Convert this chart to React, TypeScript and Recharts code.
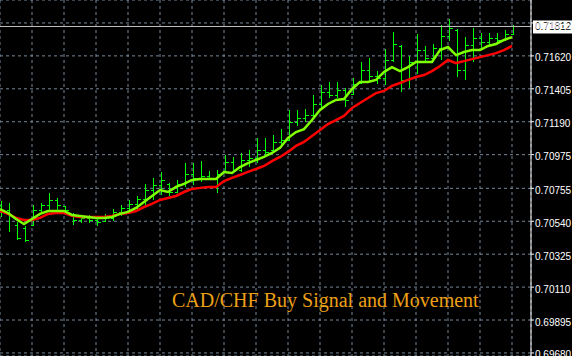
import { ComposedChart, Bar, Line, XAxis, YAxis, CartesianGrid, ReferenceLine } from 'recharts';

// OHLC bars, one per column
const highs = [
  0.70672, 0.70659, 0.70535, 0.70509, 0.70646, 0.70659, 0.70724, 0.70692, 0.7064, 0.70594,
  0.70575, 0.70581, 0.70562, 0.70588, 0.7062, 0.70646, 0.70679, 0.70705, 0.70784, 0.70823,
  0.70862, 0.7079, 0.7081, 0.7092, 0.7092, 0.70933, 0.70868, 0.70875, 0.70973, 0.7096,
  0.70986, 0.71006, 0.71084, 0.71084, 0.71104, 0.71142, 0.71267, 0.71267, 0.71273, 0.71365,
  0.7143, 0.7145, 0.7145, 0.71411, 0.71476, 0.7158, 0.71606, 0.71521, 0.71665, 0.71776,
  0.71691, 0.71619, 0.71763, 0.71685, 0.71698, 0.71822, 0.71861, 0.71796, 0.71743, 0.71802,
  0.71769, 0.71769, 0.71769, 0.71789, 0.71822,
];
const lows = [
  0.70568, 0.7047, 0.70418, 0.70405, 0.70509, 0.70594, 0.70601, 0.70594, 0.70594, 0.70515,
  0.70528, 0.70528, 0.70509, 0.70535, 0.70541, 0.70575, 0.70588, 0.7062, 0.70646, 0.70679,
  0.70711, 0.70705, 0.70724, 0.70764, 0.70777, 0.70797, 0.7081, 0.70724, 0.70855, 0.70855,
  0.70862, 0.70894, 0.7092, 0.7096, 0.70999, 0.71038, 0.71064, 0.71162, 0.71188, 0.71208,
  0.71273, 0.71345, 0.71345, 0.71286, 0.71371, 0.71443, 0.7145, 0.71437, 0.7143, 0.7158,
  0.71384, 0.7141, 0.71502, 0.71586, 0.7158, 0.71593, 0.71717, 0.71482, 0.71463, 0.7158,
  0.71665, 0.71685, 0.71704, 0.71724, 0.71763,
];
const opens = [
  0.70646, 0.70614, 0.70515, 0.70496, 0.70515, 0.70614, 0.70646, 0.70679, 0.7064, 0.70588,
  0.70548, 0.70562, 0.70548, 0.70541, 0.70562, 0.70601, 0.70627, 0.70653, 0.70685, 0.70744,
  0.70777, 0.70784, 0.70731, 0.70784, 0.70849, 0.70823, 0.70836, 0.70823, 0.70862, 0.70927,
  0.70875, 0.7094, 0.70953, 0.71006, 0.71006, 0.71058, 0.71071, 0.71188, 0.71214, 0.71234,
  0.71306, 0.71384, 0.71365, 0.71397, 0.71371, 0.71443, 0.71528, 0.71489, 0.71476, 0.71593,
  0.71685, 0.71463, 0.7158, 0.71658, 0.71606, 0.71671, 0.7175, 0.71789, 0.71528, 0.71691,
  0.71737, 0.71711, 0.71737, 0.71724, 0.71763,
];
const closes = [
  0.70614, 0.70581, 0.70431, 0.70418, 0.70614, 0.70646, 0.70679, 0.70646, 0.70614, 0.70548,
  0.70562, 0.70548, 0.70535, 0.70562, 0.70601, 0.70627, 0.70653, 0.70685, 0.70744, 0.70777,
  0.7081, 0.70731, 0.70784, 0.70849, 0.70823, 0.70836, 0.70823, 0.70849, 0.70927, 0.70875,
  0.7094, 0.70953, 0.71006, 0.70993, 0.71058, 0.71071, 0.71188, 0.71214, 0.71234, 0.71306,
  0.71384, 0.71365, 0.71397, 0.71332, 0.71437, 0.71528, 0.71489, 0.71476, 0.71593, 0.71698,
  0.71463, 0.7158, 0.71658, 0.71606, 0.71671, 0.7175, 0.71802, 0.71528, 0.71691, 0.71737,
  0.71711, 0.71737, 0.71724, 0.71763, 0.71812,
];

// moving averages
const fastMa = [
  0.7062, 0.70594, 0.70555, 0.70522, 0.70555, 0.70588, 0.70607, 0.70607, 0.70607, 0.70581,
  0.70575, 0.70568, 0.70562, 0.70562, 0.70568, 0.70588, 0.70601, 0.70627, 0.70666, 0.70705,
  0.70744, 0.70731, 0.70764, 0.70784, 0.7081, 0.70816, 0.70816, 0.70816, 0.70862, 0.70855,
  0.70894, 0.7092, 0.7094, 0.7096, 0.70986, 0.71019, 0.71084, 0.71123, 0.71142, 0.71201,
  0.71267, 0.71306, 0.71332, 0.71338, 0.71404, 0.7145, 0.7145, 0.71463, 0.71515, 0.71547,
  0.71521, 0.71547, 0.7158, 0.7158, 0.7158, 0.71658, 0.71678, 0.71625, 0.71645, 0.71658,
  0.71658, 0.71685, 0.71698, 0.71724, 0.71743,
];
const slowMa = [
  0.70607, 0.70588, 0.70562, 0.70548, 0.70548, 0.70562, 0.70588, 0.70594, 0.70594, 0.70575,
  0.70568, 0.70568, 0.70568, 0.70568, 0.70575, 0.70588, 0.70594, 0.70607, 0.70633, 0.70653,
  0.70679, 0.70692, 0.70705, 0.70731, 0.70751, 0.70758, 0.70764, 0.70764, 0.70803, 0.70823,
  0.70842, 0.70862, 0.70881, 0.70901, 0.70933, 0.7096, 0.70993, 0.71032, 0.71058, 0.71097,
  0.71136, 0.71175, 0.71201, 0.71228, 0.7128, 0.71312, 0.71345, 0.71377, 0.71391, 0.71424,
  0.71443, 0.71463, 0.71482, 0.71495, 0.71521, 0.71554, 0.71593, 0.71573, 0.71586, 0.71599,
  0.71612, 0.71625, 0.71638, 0.71658, 0.71685,
];

const priceTicks = [0.6968, 0.69895, 0.7011, 0.70325, 0.7054, 0.70755, 0.70975, 0.7119, 0.71405, 0.7162, 0.71835];
const barTicks = [0, 4, 8, 12, 16, 20, 24, 28, 32, 36, 40, 44, 48, 52, 56, 60, 64];
const lastPrice = 0.71812;
const title = 'CAD/CHF Buy Signal and Movement';

const data = highs.map((h, i) => ({
  i,
  high: h,
  low: lows[i],
  open: opens[i],
  close: closes[i],
  fast: fastMa[i],
  slow: slowMa[i],
}));

const axisFont = 'Liberation Sans, Arial, sans-serif';

function OhlcBar(props: any) {
  const { x, y, width, height, payload } = props;
  if (x == null || y == null) return null;
  const top = Math.min(y, y + height);
  const h = Math.abs(height);
  const cx = Math.round(x + width / 2) + 0.5;
  const span = payload.high - payload.low || 1;
  const yOpen = Math.round(top + ((payload.high - payload.open) / span) * h) + 0.5;
  const yClose = Math.round(top + ((payload.high - payload.close) / span) * h) + 0.5;
  return (
    <g stroke="#00ff00" strokeWidth={1} shapeRendering="crispEdges">
      <line x1={cx} x2={cx} y1={top} y2={top + h} />
      <line x1={cx - 3} x2={cx} y1={yOpen} y2={yOpen} />
      <line x1={cx} x2={cx + 3} y1={yClose} y2={yClose} />
    </g>
  );
}

function PriceBox(props: any) {
  const { viewBox } = props;
  const right = viewBox.x + viewBox.width;
  const cy = viewBox.y;
  return (
    <g>
      <rect x={right + 2} y={cy - 6} width={40} height={13} fill="#ffffff" />
      <text x={right + 4} y={cy + 4} fill="#000000" fontSize={10} fontFamily={axisFont}>
        {lastPrice.toFixed(5)}
      </text>
    </g>
  );
}

export default function App() {
  return (
    <div style={{ position: 'relative', width: 572, height: 356, background: '#000' }}>
      <style>{`body{margin:0;background:#000}`}</style>
      <ComposedChart width={572} height={356} data={data} margin={{ top: 0, right: 0, left: 0, bottom: 0 }}>
        <CartesianGrid stroke="#778899" strokeDasharray="3 3" />
        <XAxis dataKey="i" type="number" domain={[0, 66.375]} ticks={barTicks} interval={0} hide allowDataOverflow />
        <YAxis
          orientation="right"
          type="number"
          domain={[0.6966, 0.71985]}
          ticks={priceTicks}
          interval={0}
          width={41}
          allowDataOverflow
          axisLine={{ stroke: '#ffffff' }}
          tickLine={{ stroke: '#ffffff' }}
          tickSize={3}
          tickMargin={1}
          tick={{ fill: '#ffffff', fontSize: 10, fontFamily: axisFont, dy: 2 }}
          tickFormatter={(v: number) => v.toFixed(5)}
        />
        <ReferenceLine y={lastPrice} stroke="#c0c0c0" strokeWidth={1} label={<PriceBox />} />
        <Bar
          dataKey={(d: any) => [d.low, d.high]}
          barSize={1}
          shape={<OhlcBar />}
          activeBar={false}
          isAnimationActive={false}
        />
        <Line type="linear" dataKey="slow" stroke="#ff0000" strokeWidth={2.5} dot={false} activeDot={false} isAnimationActive={false} />
        <Line type="linear" dataKey="fast" stroke="#80ff00" strokeWidth={2.5} dot={false} activeDot={false} isAnimationActive={false} />
      </ComposedChart>
      <div
        style={{
          position: 'absolute',
          left: 172,
          top: 290,
          fontFamily: 'Liberation Serif, Times New Roman, serif',
          fontSize: 20,
          lineHeight: '20px',
          color: '#eda017',
          whiteSpace: 'nowrap',
        }}
      >
        {title}
      </div>
    </div>
  );
}
